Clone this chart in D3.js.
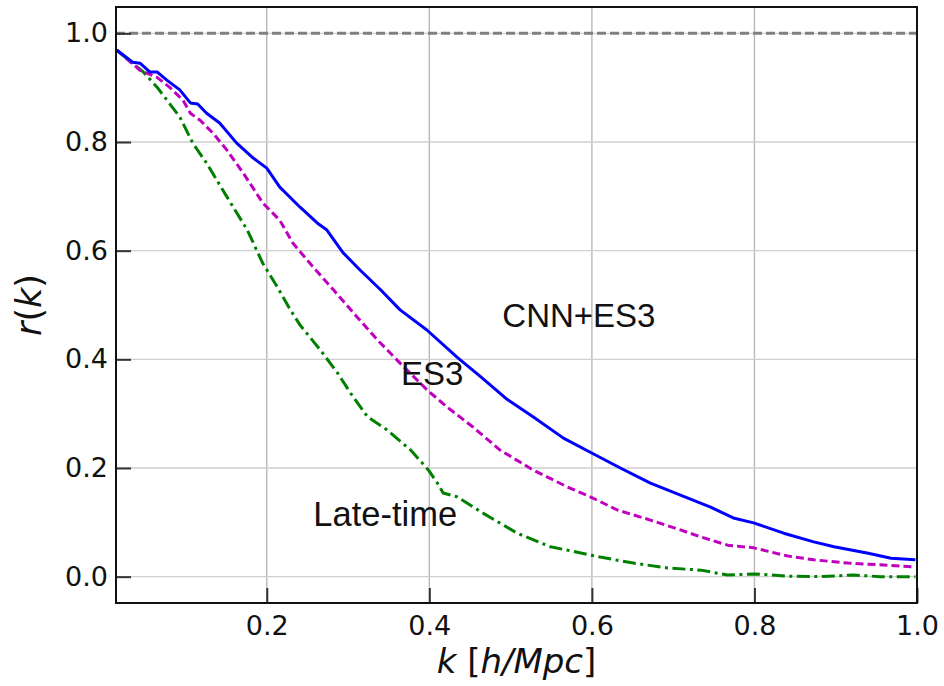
<!DOCTYPE html>
<html>
<head>
<meta charset="utf-8">
<script src="https://cdn.jsdelivr.net/npm/d3@7"></script>
<style>
  body { margin: 0; background: #fff; }
  svg { display: block; }
</style>
</head>
<body>
<div id="chart"></div>
<script>
// cross-correlation r(k) chart

const width = 944
const height = 686
const margin = { top: 7, right: 27, bottom: 83, left: 116 }

// data
const kCnn = [0.0156, 0.035, 0.044, 0.056, 0.065, 0.077, 0.093, 0.106, 0.115, 0.126, 0.142, 0.163, 0.183, 0.200, 0.216, 0.241, 0.262, 0.274, 0.294, 0.315, 0.340, 0.364, 0.397, 0.434, 0.463, 0.496, 0.528, 0.565, 0.598, 0.635, 0.672, 0.709, 0.746, 0.774, 0.799, 0.836, 0.873, 0.898, 0.940, 0.968, 0.998]
const rCnn = [0.969, 0.947, 0.945, 0.929, 0.929, 0.914, 0.896, 0.872, 0.870, 0.853, 0.835, 0.798, 0.771, 0.752, 0.717, 0.680, 0.651, 0.638, 0.596, 0.564, 0.528, 0.491, 0.454, 0.404, 0.368, 0.326, 0.294, 0.255, 0.229, 0.200, 0.172, 0.150, 0.128, 0.108, 0.099, 0.080, 0.064, 0.055, 0.043, 0.034, 0.031]

const kEs3 = [0.0156, 0.044, 0.065, 0.081, 0.097, 0.106, 0.118, 0.134, 0.151, 0.171, 0.195, 0.216, 0.232, 0.257, 0.282, 0.311, 0.336, 0.364, 0.397, 0.422, 0.454, 0.487, 0.528, 0.570, 0.598, 0.631, 0.672, 0.709, 0.734, 0.767, 0.799, 0.841, 0.873, 0.915, 0.952, 0.998]
const rEs3 = [0.969, 0.932, 0.919, 0.900, 0.877, 0.853, 0.840, 0.816, 0.785, 0.743, 0.688, 0.656, 0.614, 0.570, 0.528, 0.478, 0.436, 0.393, 0.344, 0.312, 0.275, 0.233, 0.196, 0.165, 0.147, 0.123, 0.104, 0.086, 0.073, 0.058, 0.053, 0.038, 0.031, 0.025, 0.022, 0.018]

const kLate = [0.0156, 0.035, 0.048, 0.065, 0.093, 0.109, 0.126, 0.151, 0.176, 0.195, 0.213, 0.229, 0.241, 0.266, 0.287, 0.303, 0.324, 0.348, 0.377, 0.399, 0.410, 0.417, 0.434, 0.466, 0.508, 0.549, 0.582, 0.610, 0.651, 0.693, 0.734, 0.767, 0.799, 0.841, 0.882, 0.922, 0.955, 0.998]
const rLate = [0.969, 0.945, 0.929, 0.901, 0.846, 0.798, 0.761, 0.699, 0.638, 0.577, 0.533, 0.491, 0.463, 0.417, 0.375, 0.338, 0.294, 0.270, 0.233, 0.196, 0.172, 0.154, 0.147, 0.117, 0.080, 0.055, 0.045, 0.036, 0.025, 0.016, 0.012, 0.003, 0.005, 0.001, 0.000, 0.003, 0.000, 0.000]

const xTicks = [0.2, 0.4, 0.6, 0.8, 1.0]
const yTicks = [0.0, 0.2, 0.4, 0.6, 0.8, 1.0]

const labels = [
  { text: 'CNN+ES3', k: 0.584, r: 0.459 },
  { text: 'ES3', k: 0.4036, r: 0.353 },
  { text: 'Late-time', k: 0.3457, r: 0.093 }
]

const svg = d3.select('#chart').append('svg')
  .attr('width', width).attr('height', height)

const iw = width - margin.left - margin.right
const ih = height - margin.top - margin.bottom

const x = d3.scaleLinear().domain([0.0145, 1.0]).range([0, iw])
const y = d3.scaleLinear().domain([-0.0485, 1.0485]).range([ih, 0])

const g = svg.append('g').attr('transform', 'translate(' + margin.left + ',' + margin.top + ')')

// grid
g.append('g').selectAll('line').data(xTicks).join('line')
  .attr('x1', d => x(d)).attr('x2', d => x(d))
  .attr('y1', 0).attr('y2', ih)
  .attr('stroke', '#b8b8b8').attr('stroke-width', 1.4)
g.append('g').selectAll('line').data(yTicks).join('line')
  .attr('x1', 0).attr('x2', iw)
  .attr('y1', d => y(d)).attr('y2', d => y(d))
  .attr('stroke', '#cfcfcf').attr('stroke-width', 1.4)

// reference line at 1
g.append('line')
  .attr('x1', 0).attr('x2', iw)
  .attr('y1', y(1)).attr('y2', y(1))
  .attr('stroke', '#808080').attr('stroke-width', 3)
  .attr('stroke-dasharray', '9,4')

const clip = svg.append('clipPath').attr('id', 'clip')
clip.append('rect').attr('width', iw).attr('height', ih)

const line = d3.line().x(d => x(d[0])).y(d => y(d[1]))
const series = [
  { k: kLate, r: rLate, color: '#008000', dash: '13,4.5,3,4.5' },
  { k: kEs3, r: rEs3, color: '#bf00bf', dash: '8,4' },
  { k: kCnn, r: rCnn, color: '#0000ff', dash: null }
]
const lg = g.append('g').attr('clip-path', 'url(#clip)')
series.forEach(s => {
  lg.append('path')
    .datum(d3.zip(s.k, s.r))
    .attr('d', line)
    .attr('fill', 'none')
    .attr('stroke', s.color)
    .attr('stroke-width', 3)
    .attr('stroke-linejoin', 'round')
    .attr('stroke-dasharray', s.dash)
})

// axes, ticks pointing inward
const xAxis = g.append('g').attr('transform', 'translate(0,' + ih + ')')
  .call(d3.axisBottom(x).tickValues(xTicks).tickFormat(d3.format('.1f')).tickSizeInner(-15).tickSizeOuter(0).tickPadding(13))
const yAxis = g.append('g')
  .call(d3.axisLeft(y).tickValues(yTicks).tickFormat(d3.format('.1f')).tickSizeInner(-15).tickSizeOuter(0).tickPadding(8))

;[xAxis, yAxis].forEach(a => {
  a.select('.domain').remove()
  a.selectAll('.tick line').attr('stroke', '#333').attr('stroke-width', 2)
  a.selectAll('.tick text')
    .attr('fill', '#111')
    .style('font-family', 'DejaVu Sans, sans-serif')
    .style('font-size', '27px')
})
xAxis.selectAll('.tick text').attr('dy', '0.71em')

// frame
g.append('rect')
  .attr('width', iw).attr('height', ih)
  .attr('fill', 'none').attr('stroke', '#111').attr('stroke-width', 2)

// annotations
g.selectAll('.note').data(labels).join('text')
  .attr('class', 'note')
  .attr('x', d => x(d.k)).attr('y', d => y(d.r))
  .attr('text-anchor', 'middle')
  .style('font-family', 'Liberation Sans, Arial, sans-serif')
  .style('font-size', d => d.text === 'Late-time' ? '34.5px' : '33px')
  .attr('fill', '#111')
  .text(d => d.text)

// axis titles
const xt = svg.append('text')
  .attr('x', margin.left + iw / 2).attr('y', 673)
  .attr('text-anchor', 'middle')
  .style('font-family', 'DejaVu Sans, sans-serif')
  .style('font-size', '34px')
  .attr('fill', '#111')
xt.append('tspan').style('font-style', 'italic').text('k')
xt.append('tspan').text(' [')
xt.append('tspan').style('font-style', 'italic').text('h/Mpc')
xt.append('tspan').text(']')

const yt = svg.append('text')
  .attr('transform', 'translate(41,' + (margin.top + ih / 2) + ') rotate(-90)')
  .attr('text-anchor', 'middle')
  .style('font-family', 'DejaVu Sans, sans-serif')
  .style('font-size', '35px')
  .attr('fill', '#111')
yt.append('tspan').style('font-style', 'italic').text('r')
yt.append('tspan').text('(')
yt.append('tspan').style('font-style', 'italic').text('k')
yt.append('tspan').text(')')
</script>
</body>
</html>
